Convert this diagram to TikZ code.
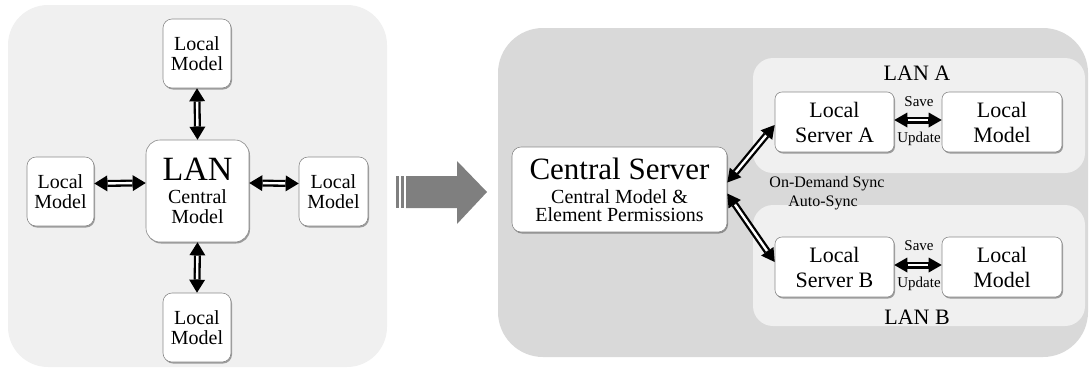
\documentclass[tikz,border=0pt]{standalone}
\usepackage{fontspec}
\setmainfont{Liberation Serif}
\usetikzlibrary{arrows.meta,shadows}
\definecolor{panelL}{HTML}{F0F0F0}
\definecolor{panelR}{HTML}{D9D9D9}
\definecolor{bigarrow}{HTML}{7F7F7F}
\definecolor{boxline}{HTML}{8A8A8A}
\tikzset{
  box/.style={draw=boxline, line width=0.6pt, fill=white, rounded corners=9pt,
    inner sep=0pt, align=center,
    drop shadow={shadow xshift=1pt, shadow yshift=-1.5pt, opacity=0.35, fill=black}},
  dblL/.style={line width=7pt, draw=black,
    {Triangle[length=13pt,width=16pt,line width=0pt]}-{Triangle[length=13pt,width=16pt,line width=0pt]},
    postaction={draw=white, line width=2.4pt, -, shorten >=13.5pt, shorten <=13.5pt}},
  dblR/.style={line width=7pt, draw=black,
    {Triangle[length=13pt,width=15pt,line width=0pt]}-{Triangle[length=13pt,width=15pt,line width=0pt]},
    postaction={draw=white, line width=2.4pt, -, shorten >=13.5pt, shorten <=13.5pt}},
  lbl/.style={inner sep=0pt, align=center},
}
\begin{document}
\begin{tikzpicture}[x=1pt,y=-1pt]
\useasboundingbox (0,0) rectangle (1089,373);
% panels
\fill[panelL, rounded corners=40pt] (8,5) rectangle (387,367);
\fill[panelR, rounded corners=45pt] (498,28) rectangle (1088,357);
\fill[panelL, rounded corners=20pt] (753,58) rectangle (1085,173);
\fill[panelL, rounded corners=20pt] (753,205) rectangle (1085,326);
% big arrow
\fill[bigarrow] (396,176) rectangle (399,208);
\fill[bigarrow] (401,176) rectangle (404,208);
\fill[bigarrow] (406,176) -- (457,176) -- (457,161) -- (487,192) -- (457,224) -- (457,208) -- (406,208) -- cycle;
% left panel nodes
\node[box, minimum width=68pt, minimum height=69pt, font=\fontsize{20}{20}\selectfont] (topLM) at (197,53.5) {Local\\Model};
\node[box, minimum width=103pt, minimum height=102pt, rounded corners=14pt, font=\fontsize{20}{20}\selectfont] (lan) at (197.5,191)
  {{\fontsize{34}{34}\selectfont LAN}\\[3pt]Central\\Model};
\node[box, minimum width=67pt, minimum height=69pt, font=\fontsize{20}{20}\selectfont] (leftLM) at (60.5,191.5) {Local\\Model};
\node[box, minimum width=69pt, minimum height=69pt, font=\fontsize{20}{20}\selectfont] (rightLM) at (333.5,191.5) {Local\\Model};
\node[box, minimum width=68pt, minimum height=69pt, font=\fontsize{20}{20}\selectfont] (botLM) at (197,327.5) {Local\\Model};
% left connectors
\draw[dblL] (topLM.south) -- (lan.north);
\draw[dblL] (lan.south) -- (botLM.north);
\draw[dblL] ([yshift=8pt]leftLM.east) -- ([yshift=8pt]lan.west);
\draw[dblL] ([yshift=8pt]lan.east) -- ([yshift=8pt]rightLM.west);
% right panel nodes
\node[box, minimum width=215pt, minimum height=85pt, font=\fontsize{20}{18}\selectfont] (cs) at (619.5,189.5)
  {{\fontsize{31}{31}\selectfont Central Server}\\[6pt]Central Model \&\\Element Permissions};
\node[box, minimum width=119pt, minimum height=60pt, rounded corners=7pt, font=\fontsize{22}{25}\selectfont] (lsa) at (834.5,122) {Local\\Server A};
\node[box, minimum width=120pt, minimum height=60pt, rounded corners=7pt, font=\fontsize{22}{25}\selectfont] (lma) at (1002,122) {Local\\Model};
\node[box, minimum width=119pt, minimum height=60pt, rounded corners=7pt, font=\fontsize{22}{25}\selectfont] (lsb) at (834.5,267) {Local\\Server B};
\node[box, minimum width=120pt, minimum height=60pt, rounded corners=7pt, font=\fontsize{22}{25}\selectfont] (lmb) at (1002,267) {Local\\Model};
% labels
\node[lbl, font=\fontsize{22}{22}\selectfont] (lanA) at (917,73) {LAN A};
\node[lbl, font=\fontsize{22}{22}\selectfont] (lanB) at (917,317) {LAN B};
\node[lbl, font=\fontsize{15}{15}\selectfont] (saveA) at (919,102) {Save};
\node[lbl, font=\fontsize{15}{15}\selectfont] (updA) at (919,139) {Update};
\node[lbl, font=\fontsize{15}{15}\selectfont] (saveB) at (919,246) {Save};
\node[lbl, font=\fontsize{15}{15}\selectfont] (updB) at (919,284) {Update};
\node[lbl, font=\fontsize{16}{16}\selectfont] (ods) at (827,184) {On-Demand Sync};
\node[lbl, font=\fontsize{16}{16}\selectfont] (as) at (823,203) {Auto-Sync};
% right connectors
\draw[dblR] ([yshift=2pt]lsa.east) -- ([yshift=2pt]lma.west);
\draw[dblR] ([yshift=2pt]lsb.east) -- ([yshift=2pt]lmb.west);
\draw[dblR] ([yshift=7pt]cs.east) -- ([yshift=-3pt]lsa.west);
\draw[dblR] ([yshift=-4pt]cs.east) -- ([yshift=5pt]lsb.west);
\end{tikzpicture}
\end{document}
